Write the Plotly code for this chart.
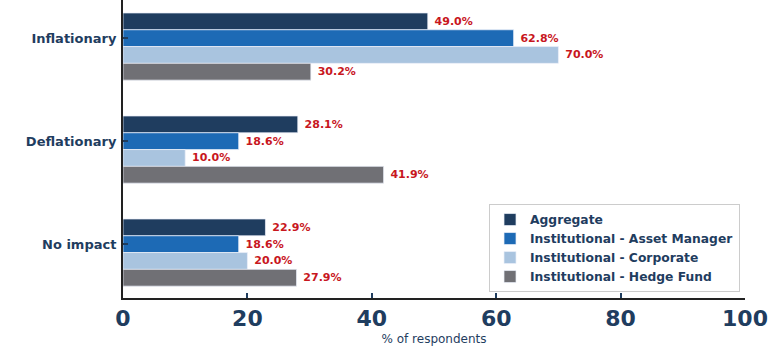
import plotly.graph_objects as go

categories = ["Inflationary", "Deflationary", "No impact"]
series_names = ["Aggregate", "Institutional - Asset Manager",
                "Institutional - Corporate", "Institutional - Hedge Fund"]
aggregate = [49.0, 28.1, 22.9]
asset_manager = [62.8, 18.6, 18.6]
corporate = [70.0, 10.0, 20.0]
hedge_fund = [30.2, 41.9, 27.9]
x_ticks = [0, 20, 40, 60, 80, 100]

values = [aggregate, asset_manager, corporate, hedge_fund]
colors = ["#1f3d5f", "#1d6ab5", "#a9c4df", "#707075"]
navy = "#1f3d5f"
font = "DejaVu Sans"
bar_w = 0.163
offsets = [-0.243, -0.080, 0.083, 0.246]

fig = go.Figure()
for name, vals, col, off in zip(series_names, values, colors, offsets):
    fig.add_trace(go.Bar(
        y=categories, x=vals, name=name, orientation="h",
        width=bar_w, offset=off,
        marker=dict(color=col, line=dict(color="rgba(235,240,250,0.9)", width=0.8)),
        text=[f" {v:.1f}%" for v in vals], textposition="outside",
        textfont=dict(family=font, size=11, color="#c8171e", weight="bold"),
        constraintext="none", cliponaxis=False,
    ))

fig.update_layout(
    width=768, height=353,
    margin=dict(l=123, r=23, t=0, b=55),
    barmode="overlay",
    plot_bgcolor="white", paper_bgcolor="white",
    font=dict(family=font, color=navy),
    showlegend=True,
    legend=dict(
        x=0.992, xanchor="right", y=0.02, yanchor="bottom",
        bgcolor="rgba(255,255,255,0.9)", bordercolor="#cccccc", borderwidth=1,
        font=dict(family=font, size=12.3, color=navy, weight="bold"),
        tracegroupgap=0, itemwidth=30,
    ),
    xaxis=dict(
        range=[0, 100], tickvals=x_ticks, ticktext=[str(t) for t in x_ticks],
        showgrid=False, zeroline=False,
        showline=True, linecolor="#222222", linewidth=2,
        ticks="inside", ticklen=5, tickcolor=navy, tickwidth=1.5,
        tickfont=dict(family=font, size=22, color=navy, weight="bold"),
        title=dict(text="% of respondents", font=dict(family=font, size=12, color=navy), standoff=4),
    ),
    yaxis=dict(
        type="category", range=[2.524, -0.369],
        showgrid=False, zeroline=False,
        showline=True, linecolor="#222222", linewidth=2,
        ticks="inside", ticklen=5, tickcolor=navy, tickwidth=1.5,
        tickfont=dict(family=font, size=13, color=navy, weight="bold"),
        ticklabelstandoff=2,
    ),
)

fig.write_html("out.html")
